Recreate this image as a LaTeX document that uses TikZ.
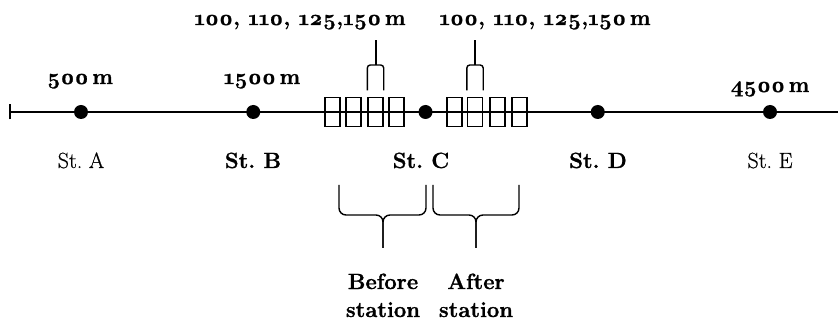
\documentclass[tikz,border=0pt]{standalone}
\usepackage{fontspec}
\setmainfont{Latin Modern Roman}[Numbers=OldStyle,UprightFeatures={FakeBold=0.6},BoldFeatures={FakeBold=1.2}]
\usetikzlibrary{arrows.meta, positioning}

\begin{document}
\begin{tikzpicture}[x=1pt,y=-1pt,node distance=172.25pt,
  station/.style={circle,fill=black,inner sep=0pt,minimum size=14pt},
  pos box/.style={draw,rectangle,inner sep=0pt,line width=1.4pt,minimum width=15pt,minimum height=29pt},
  dist label/.style={font=\fontsize{22}{28}\selectfont\bfseries,anchor=base,inner sep=0pt},
  name label/.style={font=\fontsize{22}{28}\selectfont,anchor=base,inner sep=0pt},
  fork/.style={line width=1.4pt,rounded corners=3pt},
  bracket/.style={line width=1.4pt,rounded corners=7pt}]
  \useasboundingbox (0,0) rectangle (838,320);
  % track
  \coordinate (west) at (9,112);
  \coordinate (east) at (838,112);
  \draw[{Bar[width=15pt]}-,line width=2.4pt] (west) -- (east);
  % stations
  \node[station] (stA) at (81,112) {};
  \node[station] (stB)[right of=stA] {};
  \node[station] (stC)[right of=stB] {};
  \node[station] (stD)[right of=stC] {};
  \node[station] (stE)[right of=stD] {};
  \node[name label] (nA) at (81,168) {St.\ A};
  \node[name label,font=\fontsize{22}{28}\selectfont\bfseries] (nB) at (253,168) {St.\ B};
  \node[name label,font=\fontsize{22}{28}\selectfont\bfseries] (nC) at (421,168) {St.\ C};
  \node[name label,font=\fontsize{22}{28}\selectfont\bfseries] (nD) at (598,168) {St.\ D};
  \node[name label] (nE) at (770,168) {St.\ E};
  \node[dist label] (dA) at (80,84) {500\,m};
  \node[dist label] (dB) at (262,84) {1500\,m};
  \node[dist label] (dE) at (770,92) {4500\,m};
  % candidate positions
  \foreach \x [count=\i] in {332.5,353.5,375.5,396.5}
    \node[pos box] (bL\i) at (\x,112) {};
  \foreach \x [count=\i] in {454.5,475,497.5,519.5}
    \node[pos box] (bR\i) at (\x,112) {};
  \node[dist label] (dL) at (300,25) {100, 110, 125,150\,m};
  \node[dist label] (dR) at (545,25) {100, 110, 125,150\,m};
  % forks
  \coordinate (tipL) at (376,40);
  \coordinate (jL) at (376,65);
  \draw[fork] ([yshift=6.5pt]bL3.north west) |- (jL) -| ([yshift=6.5pt]bL3.north east);
  \draw[fork] (jL) -- (tipL);
  \coordinate (tipR) at (475,40);
  \coordinate (jR) at (475,65);
  \draw[fork] ([yshift=6.5pt]bR2.north west) |- (jR) -| ([yshift=6.5pt]bR2.north east);
  \draw[fork] (jR) -- (tipR);
  % braces
  \coordinate (jB) at (383,215);
  \coordinate (tipB) at (383,248);
  \draw[bracket] (339,185) |- (jB) -- (tipB);
  \draw[bracket] (426,185) |- (jB) -- (tipB);
  \coordinate (jA) at (476,215);
  \coordinate (tipA) at (476,248);
  \draw[bracket] (433,185) |- (jA) -- (tipA);
  \draw[bracket] (519,185) |- (jA) -- (tipA);
  \node[dist label,align=center] (before) at (383,317) {Before\\station};
  \node[dist label,align=center] (after) at (476,317) {After\\station};
\end{tikzpicture}
\end{document}
